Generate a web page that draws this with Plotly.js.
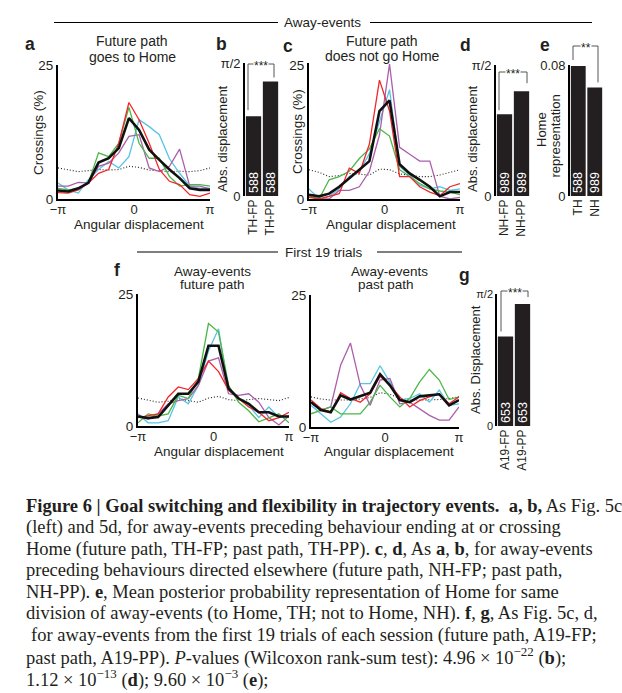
<!DOCTYPE html>
<html><head><meta charset="utf-8">
<script src="https://cdn.plot.ly/plotly-3.0.1.min.js"></script>
<style>html,body{margin:0;padding:0;background:#fff}#chart{width:622px;height:693px}</style>
</head><body><div id="chart"></div>
<script>
const PI = Math.PI;
// bin centres (angular displacement, rad)
const ANGLES = [-3.14159,-2.72271,-2.30383,-1.88496,-1.46608,-1.04720,-0.62832,-0.20944,0.20944,0.62832,1.04720,1.46608,1.88496,2.30383,2.72271,3.14159];
const X_TICKVALS = [-3.14159, 0, 3.14159];
const X_TICKTEXT = ['−π', '0', 'π'];

// panel a: future path goes to Home (crossings %)
const A_RED    = [1.2,1.1,1.7,3.0,4.8,5.5,10.4,18.0,14.8,10.4,5.5,3.3,2.7,0.8,0.5,1.1];
const A_GREEN  = [2.0,1.7,2.0,3.0,8.6,7.9,10.4,17.1,10.4,7.6,7.6,4.2,2.4,2.7,2.7,2.4];
const A_CYAN   = [3.0,1.7,1.1,3.6,5.5,7.0,5.8,7.9,14.8,13.5,12.0,7.5,4.8,2.4,2.0,2.0];
const A_PURPLE = [2.4,2.4,3.1,3.0,6.1,6.7,8.6,11.7,12.0,5.8,5.1,6.1,9.3,2.4,2.4,1.9];
const A_MEAN   = [1.6,1.4,2.0,3.0,6.8,7.6,9.5,15.1,12.9,9.2,7.3,5.5,3.9,2.0,1.7,1.7];
const A_CHANCE = [5.8,5.4,5.1,5.3,5.5,5.4,5.5,6.1,5.9,5.4,5.3,5.1,5.2,5.1,5.3,5.8];

// panel c: future path does not go Home
const C_RED    = [0.3,0.0,0.5,1.0,5.8,4.8,10.3,22.3,16.5,4.2,4.2,2.3,1.3,0.6,2.3,2.9];
const C_GREEN  = [0.5,0.0,3.6,4.2,5.2,7.6,9.4,13.2,11.8,5.5,4.2,2.9,1.9,1.5,1.3,0.8];
const C_CYAN   = [1.9,0.0,0.5,1.9,4.2,5.2,8.5,14.5,20.5,6.1,4.5,2.6,1.9,2.3,1.6,1.9];
const C_PURPLE = [0.6,0.0,0.0,1.6,1.6,2.3,5.2,12.0,25.3,9.7,8.4,7.1,7.1,0.5,0.0,0.3];
const C_MEAN   = [0.8,0.5,1.0,2.3,3.9,5.5,7.1,16.5,18.5,6.5,4.8,3.6,2.3,0.5,1.3,1.3];
const C_CHANCE = [5.5,5.0,4.2,4.4,4.8,4.7,4.5,5.6,5.5,4.7,4.5,4.2,4.2,4.5,5.0,5.5];

// panel f (left): first 19 trials, future path
const F_RED    = [1.6,1.9,2.3,5.5,7.4,6.9,9.0,12.3,10.3,6.8,5.2,3.6,2.6,1.0,1.6,2.6];
const F_GREEN  = [0.6,2.3,1.9,2.3,5.8,5.2,9.0,19.4,17.8,7.7,4.5,2.9,0.8,1.6,2.3,0.6];
const F_CYAN   = [2.3,0.6,0.6,1.0,5.5,4.2,7.7,14.2,18.4,6.8,5.2,3.9,1.6,3.6,1.6,1.9];
const F_PURPLE = [2.1,1.3,2.3,4.2,4.8,5.2,7.7,12.3,12.9,6.1,5.8,6.1,4.5,1.6,0.2,1.9];
const F_MEAN   = [1.8,1.5,1.7,3.9,6.1,6.1,8.4,15.2,15.2,7.1,5.2,4.2,2.6,2.6,1.8,1.8];
const F_CHANCE = [5.3,4.9,4.5,4.7,5.2,4.8,4.5,5.3,5.6,5.0,4.8,5.0,5.2,5.0,4.8,5.4];

// panel f (right): first 19 trials, past path
const P_RED    = [5.1,3.5,2.8,6.5,5.4,4.7,6.3,9.6,7.9,5.7,3.8,5.0,5.7,6.3,4.4,5.7];
const P_GREEN  = [2.5,3.2,3.8,2.5,2.5,2.5,4.7,7.9,5.7,3.8,5.4,8.5,10.9,8.9,5.2,5.7];
const P_CYAN   = [4.1,2.5,0.9,1.9,4.4,8.2,8.2,11.6,8.5,5.1,5.4,6.3,4.7,7.0,4.1,4.4];
const P_PURPLE = [4.6,3.2,3.8,11.7,15.9,7.9,4.1,8.9,9.2,4.4,4.7,3.5,2.2,1.3,1.3,3.8];
const P_MEAN   = [4.7,3.2,2.8,6.0,5.2,5.8,6.5,10.0,7.9,5.1,4.7,5.8,6.0,6.2,4.1,5.1];
const P_CHANCE = [5.7,5.3,5.1,5.1,5.1,5.3,5.6,6.5,6.2,5.4,5.1,5.1,5.1,5.2,5.4,5.7];

// bar panels
const B_CATS = ['TH-FP','TH-PP'];   const B_VALS = [0.943,1.352];  const B_N = [588,588];
const D_CATS = ['NH-FP','NH-PP'];   const D_VALS = [0.980,1.257];  const D_N = [989,989];
const E_CATS = ['TH','NH'];         const E_VALS = [0.0794,0.0663]; const E_N = [588,989];
const G_CATS = ['A19-FP','A19-PP']; const G_VALS = [1.065,1.451];  const G_N = [653,653];

// ---------------- drawing ----------------
const W = 622, H = 693;
const px = v => v / W;
const py = v => 1 - v / H;
const FONT = 'Liberation Sans, Arial, Helvetica, sans-serif';
const SERIF = 'Liberation Serif, Times New Roman, serif';
const INK = '#231f20';
const COL = {red:'#f2262b', green:'#4cb748', cyan:'#58c4e4', purple:'#aa5fab'};

const layout = {
  width: W, height: H, margin:{l:0,r:0,t:0,b:0},
  paper_bgcolor:'#fff', plot_bgcolor:'rgba(0,0,0,0)', showlegend:false,
  bargap:0.1, font:{family:FONT, size:13, color:INK},
  uniformtext:{mode:'show', minsize:12},
  annotations:[], shapes:[]
};
const traces = [];

const LINE_PANELS = [
  {n:1, x0:58,  x1:210, ytop:65,   ybot:199, ymax:25,   s:[A_CHANCE,A_CYAN,A_PURPLE,A_GREEN,A_RED,A_MEAN]},
  {n:2, x0:309, x1:460, ytop:62.5, ybot:199, ymax:25.6, s:[C_CHANCE,C_CYAN,C_PURPLE,C_GREEN,C_RED,C_MEAN]},
  {n:3, x0:138, x1:289, ytop:294,  ybot:426, ymax:25,   s:[F_CHANCE,F_CYAN,F_PURPLE,F_GREEN,F_RED,F_MEAN]},
  {n:4, x0:311, x1:459, ytop:295,  ybot:427, ymax:25,   s:[P_CHANCE,P_CYAN,P_PURPLE,P_GREEN,P_RED,P_MEAN]},
];
const styles = [
  {color:'#222', width:1.1, dash:'1px,2px'},
  {color:COL.cyan, width:1.3},
  {color:COL.purple, width:1.3},
  {color:COL.green, width:1.3},
  {color:COL.red, width:1.3},
  {color:'#111', width:2.6},
];
LINE_PANELS.forEach(p => {
  const sfx = p.n === 1 ? '' : p.n;
  layout['xaxis'+sfx] = {domain:[px(p.x0),px(p.x1)], range:[-PI,PI], anchor:'y'+sfx,
    showline:true, linecolor:'#000', linewidth:2, ticks:'', tickvals:X_TICKVALS, ticktext:X_TICKTEXT,
    ticklabelstandoff:-3, tickfont:{size:13}, showgrid:false, zeroline:false, fixedrange:true};
  layout['yaxis'+sfx] = {domain:[py(p.ybot),py(p.ytop)], range:[0,p.ymax], anchor:'x'+sfx,
    showline:true, linecolor:'#000', linewidth:2, ticks:'', tickvals:[0,25], ticklabelshift:1.5,
    tickfont:{size:13.5}, showgrid:false, zeroline:false, fixedrange:true};
  p.s.forEach((ys,i) => traces.push({type:'scatter', mode:'lines', x:ANGLES, y:ys,
    xaxis:'x'+sfx, yaxis:'y'+sfx, line:styles[i], hoverinfo:'skip'}));
});

const BAR_PANELS = [
  {n:5, x0:245, x1:279, ytop:63,  ybot:196, ymax:PI/2, tv:[0,PI/2],  tt:['0','π/2'],  tf:13, cats:B_CATS, vals:B_VALS, cnt:B_N,
   br:{xl:248, xr:274, top:64,  gl:6, gr:4}},
  {n:6, x0:496, x1:530, ytop:65,  ybot:196, ymax:PI/2, tv:[0,PI/2],  tt:['0','π/2'],  tf:13, cats:D_CATS, vals:D_VALS, cnt:D_N,
   br:{xl:499, xr:527, top:72,  gl:4, gr:8}},
  {n:7, x0:570, x1:603, ytop:65,  ybot:196, ymax:0.08, tv:[0,0.08],  tt:['0','0.08'], tf:13, cats:E_CATS, vals:E_VALS, cnt:E_N,
   br:{xl:573, xr:598, top:46,  gl:6, gr:5}},
  {n:8, x0:497, x1:531, ytop:294, ybot:426, ymax:PI/2, tv:[0,PI/2],  tt:['0','π/2'],  tf:11, cats:G_CATS, vals:G_VALS, cnt:G_N,
   br:{xl:501, xr:528, top:291, gl:5, gr:7}},
];
BAR_PANELS.forEach(p => {
  const sfx = p.n;
  layout['xaxis'+sfx] = {domain:[px(p.x0),px(p.x1)], range:[-0.5,1.5], anchor:'y'+sfx, type:'category',
    showline:false, ticks:'', tickangle:-90, tickfont:{size:12}, showgrid:false, zeroline:false, fixedrange:true};
  layout['yaxis'+sfx] = {domain:[py(p.ybot),py(p.ytop)], range:[0,p.ymax], anchor:'x'+sfx,
    showline:true, linecolor:'#000', linewidth:1.8, ticks:'', tickvals:p.tv, ticktext:p.tt,
    tickfont:{size:p.tf}, showgrid:false, zeroline:false, fixedrange:true};
  traces.push({type:'bar', x:p.cats, y:p.vals, xaxis:'x'+sfx, yaxis:'y'+sfx,
    marker:{color:INK, line:{width:0}}, text:p.cnt.map(String), textposition:'inside',
    insidetextanchor:'start', textangle:-90, textfont:{color:'#fff', size:12.5, family:FONT},
    hoverinfo:'skip'});
  // significance bracket, legs end just above each bar
  const v2px = v => p.ybot - v / p.ymax * (p.ybot - p.ytop);
  const yl = v2px(p.vals[0]) - p.br.gl, yr = v2px(p.vals[1]) - p.br.gr, t = p.br.top;
  const L = (x0,y0,x1,y1) => ({type:'line', xref:'paper', yref:'paper', x0:px(x0), y0:py(y0), x1:px(x1), y1:py(y1),
    line:{color:'#555', width:1}});
  layout.shapes.push(L(p.br.xl, yl, p.br.xl, t), L(p.br.xl, t, p.br.xr, t), L(p.br.xr, t, p.br.xr, yr));
  layout.annotations.push({xref:'paper', yref:'paper', x:px((p.br.xl+p.br.xr)/2), y:py(t+2), text:'***'.slice(0, p.n===7?2:3),
    showarrow:false, xanchor:'center', yanchor:'middle', bgcolor:'#fff', borderpad:0,
    font:{family:FONT, size:12, color:INK}});
});

function T(x, y, text, size, extra) {
  layout.annotations.push(Object.assign({xref:'paper', yref:'paper', x:px(x), y:py(y), text:text,
    showarrow:false, xanchor:'center', yanchor:'middle', font:{family:FONT, size:size, color:INK}}, extra||{}));
}
// section headers
T(322.5, 22.5, 'Away-events', 13.5);
T(323.5, 252, 'First 19 trials', 13.5);
const HL = (x0,x1,y) => layout.shapes.push({type:'line', xref:'paper', yref:'paper', x0:px(x0), x1:px(x1), y0:py(y), y1:py(y), line:{color:'#000', width:1.2}});
HL(54, 278, 22.5); HL(370, 592, 22.5); HL(137, 278, 252); HL(377, 462, 252);

// panel letters
[['a',30,44],['b',221,44],['c',288,46],['d',466,45],['e',545,45],['f',117,270],['g',464,275]]
  .forEach(([l,x,y]) => T(x, y, '<b>'+l+'</b>', 17.5));

// panel titles
T(132, 41, 'Future path', 14); T(132, 57, 'goes to Home', 14);
T(382, 41, 'Future path', 14); T(382, 56, 'does not go Home', 14);
T(212, 271, 'Away-events', 13.5); T(212, 284, 'future path', 13.5);
T(390, 271, 'Away-events', 13.5); T(386, 284, 'past path', 13.5);

// axis titles
T(139, 224.5, 'Angular displacement', 13.5);
T(391, 224.5, 'Angular displacement', 13.5);
T(219, 451.5, 'Angular displacement', 13.5);
T(389, 451.5, 'Angular displacement', 13.5);
const R = {textangle:-90};
T(38, 133, 'Crossings (%)', 13.5, R);
T(297, 132, 'Crossings (%)', 13.5, R);
T(222, 139, 'Abs. displacement', 13, R);
T(472, 139, 'Abs. displacement', 13, R);
T(542, 130, 'Home', 13, R);
T(555.5, 136, 'representation', 13, R);
T(476, 360, 'Abs. Displacement', 13, R);

// caption
const CAPTION = [
  '<b>Figure 6 | Goal switching and flexibility in trajectory events.</b>  <b>a, b,</b> As Fig. 5c',
  '(left) and 5d, for away-events preceding behaviour ending at or crossing',
  'Home (future path, TH-FP; past path, TH-PP). <b>c</b>, <b>d</b>, As <b>a</b>, <b>b</b>, for away-events',
  'preceding behaviours directed elsewhere (future path, NH-FP; past path,',
  'NH-PP). <b>e</b>, Mean posterior probability representation of Home for same',
  'division of away-events (to Home, TH; not to Home, NH). <b>f</b>, <b>g</b>, As Fig. 5c, d,',
  'for away-events from the first 19 trials of each session (future path, A19-FP;',
  'past path, A19-PP). <i>P</i>-values (Wilcoxon rank-sum test): 4.96 × 10<sup>−22</sup> (<b>b</b>);',
  '1.12 × 10<sup>−13</sup> (<b>d</b>); 9.60 × 10<sup>−3</sup> (<b>e</b>);'
];
CAPTION.forEach((line, i) => {
  layout.annotations.push({xref:'paper', yref:'paper', x:px(i===6?29:24), y:py(506 + i*21.5), text:line,
    showarrow:false, xanchor:'left', yanchor:'middle', font:{family:SERIF, size:18.5, color:INK}});
});

Plotly.newPlot('chart', traces, layout, {displayModeBar:false, staticPlot:true});
</script>
</body></html>
